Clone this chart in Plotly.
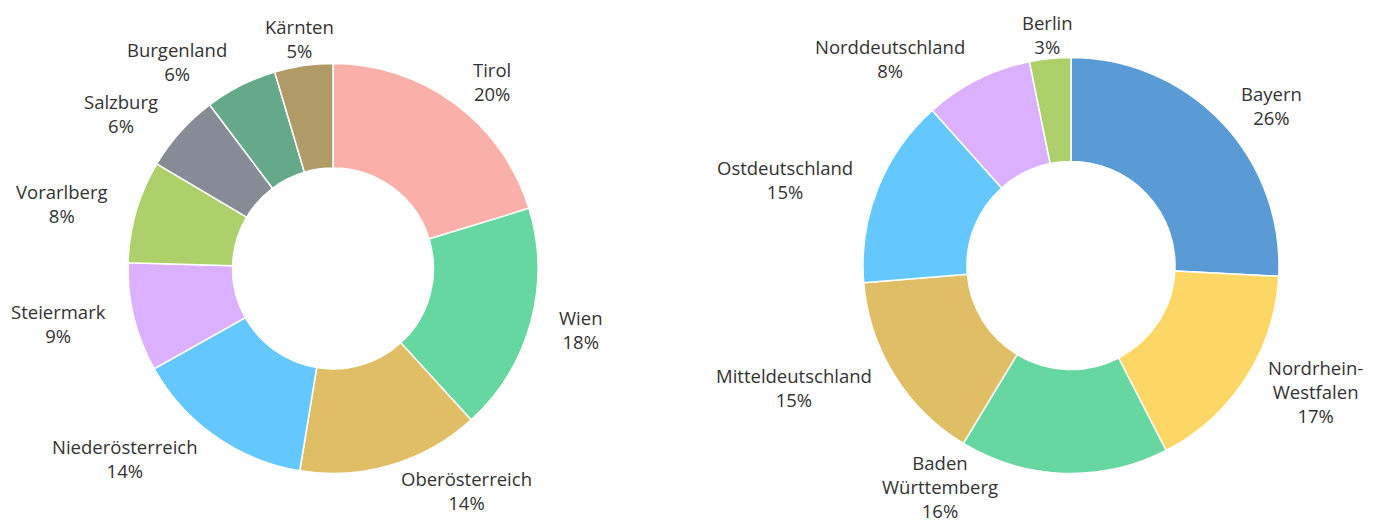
import math
import plotly.graph_objects as go

W, H = 1385, 520

at_labels = ["Tirol", "Wien", "Oberösterreich", "Niederösterreich", "Steiermark",
             "Vorarlberg", "Salzburg", "Burgenland", "Kärnten"]
at_values = [20.3, 18.0, 14.4, 14.3, 8.6, 8.1, 6.2, 5.7, 4.6]
at_colors = ["#FAAFA8", "#66D7A0", "#E0BE65", "#64C8FF", "#DAB0FF",
             "#AED06A", "#878B95", "#66A98A", "#B09A66"]

de_labels = ["Bayern", "Nordrhein-<br>Westfalen", "Baden<br>Württemberg", "Mitteldeutschland",
             "Ostdeutschland", "Norddeutschland", "Berlin"]
de_values = [25.8, 16.6, 16.2, 15.0, 14.7, 8.4, 3.2]
de_colors = ["#5B9BD5", "#FDD766", "#66D7A0", "#E0BE65", "#64C8FF", "#DAB0FF", "#AED06A"]

FONT = "Open Sans, Noto Sans, sans-serif"
FS = 18.5
TXT = "#333333"
LINE_H = 25.0


def dom(cx, cy, r):
    return dict(x=[(cx - r) / W, (cx + r) / W], y=[(H - cy - r) / H, (H - cy + r) / H])


def label_annotations(labels, values, cx, cy, r_lab, bottom_limit):
    total = sum(values)
    anns = []
    cum = 0.0
    for lab, v in zip(labels, values):
        mid = (cum + v / 2) / total * 2 * math.pi
        cum += v
        s, c = math.sin(mid), math.cos(mid)
        px = cx + r_lab * s
        py = cy - r_lab * c
        n_lines = lab.count("<br>") + 2
        half_h = n_lines * LINE_H / 2
        if abs(s) > 0.2:
            xa = "left" if s > 0 else "right"
        else:
            xa = "center"
        if py + half_h > bottom_limit:
            py = bottom_limit - half_h
            dx = math.sqrt(max(r_lab ** 2 - (py - cy) ** 2, 0))
            px = cx + (dx if s > 0 else -dx)
            xa = "left" if s > 0 else "right"
        pct = round(v / total * 100)
        anns.append(dict(
            x=px / W, y=1 - py / H, xref="paper", yref="paper",
            text=f"{lab}<br>{pct}%", showarrow=False, xanchor=xa, yanchor="middle",
            align="center", font=dict(family=FONT, size=FS, color=TXT),
        ))
    return anns


# the page body has an 8px margin, so figure coords = screen coords - 8
fig = go.Figure()
fig.add_trace(go.Pie(
    labels=at_labels, values=at_values, sort=False, direction="clockwise", rotation=0,
    hole=0.49, marker=dict(colors=at_colors, line=dict(color="white", width=1.5)),
    textinfo="none", domain=dom(325, 260.5, 205), showlegend=False,
    hoverinfo="label+percent",
))
fig.add_trace(go.Pie(
    labels=de_labels, values=de_values, sort=False, direction="clockwise", rotation=0,
    hole=0.5, marker=dict(colors=de_colors, line=dict(color="white", width=1.5)),
    textinfo="none", domain=dom(1063, 257.5, 208), showlegend=False,
    hoverinfo="label+percent",
))

anns = label_annotations(at_labels, at_values, 325, 260.5, 232, 512)
anns += label_annotations(de_labels, de_values, 1063, 257.5, 232, 516)

fig.update_layout(
    width=W, height=H, margin=dict(l=0, r=0, t=0, b=0),
    paper_bgcolor="white", plot_bgcolor="white", showlegend=False,
    font=dict(family=FONT, size=FS, color=TXT),
    annotations=anns,
)
fig.write_html("out.html")
